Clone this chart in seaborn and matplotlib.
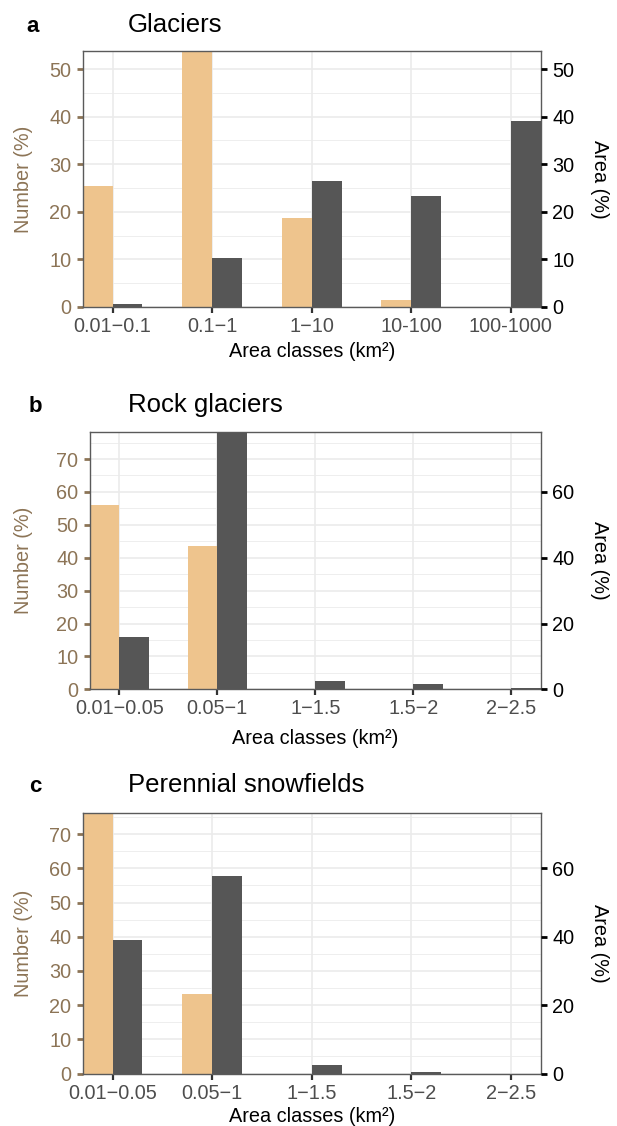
import matplotlib
matplotlib.use("Agg")
import matplotlib.pyplot as plt
import seaborn as sns
import pandas as pd
from matplotlib.ticker import MultipleLocator

plt.rcParams['font.family'] = ['Liberation Sans', 'DejaVu Sans']

# ---------------- data ----------------
classes_a = ['0.01\u22120.1', '0.1\u22121', '1\u221210', '10-100', '100-1000']
number_a = [25.5, 53.8, 18.6, 1.4, 0.0]
area_a = [0.6, 10.2, 26.4, 23.4, 39.1]

classes_bc = ['0.01\u22120.05', '0.05\u22121', '1\u22121.5', '1.5\u22122', '2\u22122.5']
number_b = [56.0, 43.6, 0.0, 0.0, 0.0]
area_b = [16.0, 78.3, 2.6, 1.6, 0.3]

number_c = [76.1, 23.3, 0.0, 0.0, 0.0]
area_c = [39.0, 57.8, 2.4, 0.5, 0.0]

letters = ['a', 'b', 'c']
titles = ['Glaciers', 'Rock glaciers', 'Perennial snowfields']
xlabel = 'Area classes (km\u00b2)'
ylabel_left = 'Number (%)'
ylabel_right = 'Area (%)'

# ---------------- style ----------------
ORANGE = '#EEC48D'
DARK = '#565656'
BROWN = '#8C7456'
GRID = '#EBEBEB'
BORDER = '#5A5A5A'
TS = 14.3

W, H = 617, 1126
fig = plt.figure(figsize=(W / 100, H / 100), dpi=100)

# axes boxes in pixels: left, right, top, bottom
boxes = [(82.7, 540.7, 51, 307), (90, 540.7, 431.7, 689.3), (82.7, 540.7, 813.3, 1073.5)]
title_base = [32, 411.7, 792.3]
letter_x = [26, 29, 29]
right_steps = [10, 20, 20]
xlab_y = [-0.172, -0.19, -0.166]

panels = [(classes_a, number_a, area_a), (classes_bc, number_b, area_b), (classes_bc, number_c, area_c)]

for i, (cls, num, area) in enumerate(panels):
    l, r, t, b = boxes[i]
    ax = fig.add_axes([l / W, 1 - b / H, (r - l) / W, (b - t) / H])
    df = pd.DataFrame({
        'cls': list(cls) * 2,
        'series': ['Number'] * len(cls) + ['Area'] * len(cls),
        'value': list(num) + list(area),
    })
    sns.barplot(data=df, x='cls', y='value', hue='series', hue_order=['Number', 'Area'],
                palette=[ORANGE, DARK], width=0.6, saturation=1, legend=False,
                errorbar=None, linewidth=0, ax=ax, zorder=2)
    top = max(list(num) + list(area))
    ax.set_xlim(-0.3, len(cls) - 0.7)
    ax.set_ylim(0, top)

    ax.yaxis.set_major_locator(MultipleLocator(10))
    ax.yaxis.set_minor_locator(MultipleLocator(5))
    ax.set_axisbelow(True)
    ax.grid(which='major', color=GRID, lw=1.2, zorder=0)
    ax.grid(which='minor', axis='y', color=GRID, lw=0.6, zorder=0)

    for s in ax.spines.values():
        s.set_color(BORDER)
        s.set_linewidth(1.0)

    ax.tick_params(axis='y', which='major', colors=BROWN, length=4.3, width=2.0, pad=4, labelsize=TS)
    ax.tick_params(axis='y', which='minor', length=0)
    ax.tick_params(axis='x', which='major', color='#333333', labelcolor='#4D4D4D',
                   length=4.3, width=1.6, pad=3, labelsize=TS)

    ax.set_xlabel(xlabel, fontsize=TS, color='black')
    ax.xaxis.set_label_coords(0.5, xlab_y[i])
    ax.xaxis.label.set_va('center')

    ax.set_ylabel(ylabel_left, fontsize=TS, color=BROWN)
    ax.yaxis.set_label_coords((24 - l) / (r - l), 0.5)
    ax.yaxis.label.set_va('center')

    ax2 = ax.twinx()
    ax2.set_ylim(0, top)
    ax2.yaxis.set_major_locator(MultipleLocator(right_steps[i]))
    for s in ax2.spines.values():
        s.set_visible(False)
    ax2.tick_params(axis='y', colors='black', length=4.3, width=2.0, pad=4, labelsize=TS)
    ax2.set_ylabel(ylabel_right, fontsize=TS, color='black', rotation=-90)
    ax2.yaxis.set_label_coords((600 - l) / (r - l), 0.5)
    ax2.yaxis.label.set_va('center')

    fig.text(letter_x[i] / W, 1 - title_base[i] / H, letters[i], fontsize=16,
             fontweight='bold', va='baseline', ha='left')
    fig.text(128 / W, 1 - title_base[i] / H, titles[i], fontsize=18.5,
             va='baseline', ha='left')

fig.savefig('out.png', dpi=100)
